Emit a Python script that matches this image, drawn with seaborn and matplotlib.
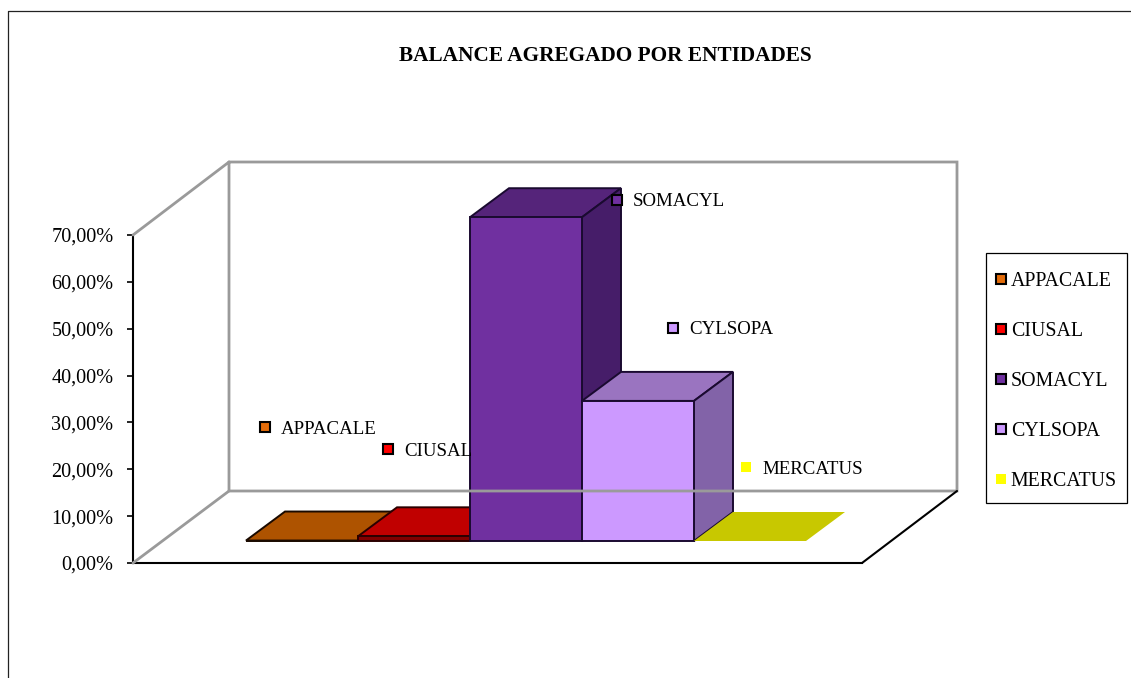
import matplotlib
matplotlib.use("Agg")
import matplotlib.pyplot as plt
from matplotlib.lines import Line2D
from matplotlib.patches import Polygon, Rectangle
from matplotlib.transforms import Affine2D
import seaborn as sns

entities = ["APPACALE", "CIUSAL", "SOMACYL", "CYLSOPA", "MERCATUS"]
values = [0.1, 1.0, 69.1, 29.9, 0.0]
yticks = [0, 10, 20, 30, 40, 50, 60, 70]
ytick_labels = ["0,00%", "10,00%", "20,00%", "30,00%", "40,00%", "50,00%", "60,00%", "70,00%"]
title = "BALANCE AGREGADO POR ENTIDADES"

front_colors = ["#E36C0A", "#800000", "#7030A0", "#CC99FF", "#C8C800"]
top_colors = ["#AE5300", "#C00000", "#55247A", "#9A74C0", "#C8C800"]
side_colors = ["#8A4200", "#900000", "#461D69", "#8263A8", "#A0A000"]
edge_colors = ["#1A0A00", "#2A0000", "#1A0A30", "#1A0A30", "none"]
key_colors = ["#E36C0A", "#FF0000", "#7030A0", "#CC99FF", "#FFFF00"]
key_edges = ["black", "black", "black", "black", "none"]

W, H = 1131, 678
sns.set_theme(style="white")
plt.rcParams["font.family"] = ["Liberation Serif", "DejaVu Serif"]
fig = plt.figure(figsize=(W / 100, H / 100), dpi=100, facecolor="white")
px = Affine2D().scale(1, -1).translate(0, H)


def axes_rect(x0, x1, ytop, ybot):
    return [x0 / W, (H - ybot) / H, (x1 - x0) / W, (ybot - ytop) / H]


# value axis, on the front plane of the chart box
ax = fig.add_axes(axes_rect(133, 862, 235, 563), facecolor="none")
ax.set_ylim(0, 70)
ax.set_xlim(0, 1)
ax.set_yticks(yticks)
ax.set_yticklabels(ytick_labels, fontsize=14.6, color="black")
ax.set_xticks([])
ax.tick_params(axis="y", left=True, length=4, width=1.2, color="black", pad=10)
sns.despine(ax=ax, top=True, right=True)
for s in ("left", "bottom"):
    ax.spines[s].set_color("black")
    ax.spines[s].set_linewidth(1.5)

# outer chart frame, walls and floor of the box
fig.add_artist(Line2D([8, 8, 1131], [678, 11, 11], transform=px, color="#222222", lw=0.9))
wall = dict(transform=px, color="#9A9A9A", lw=2.0, solid_joinstyle="miter")
fig.add_artist(Line2D([133, 229, 957, 957, 229, 229], [235, 162, 162, 491, 491, 162], **wall))
fig.add_artist(Line2D([133, 229], [563, 491], **wall))
fig.add_artist(Line2D([862, 957], [563, 491], transform=px, color="black", lw=1.5))

# bars sit mid-way in the depth of the box
ax_bars = fig.add_axes(axes_rect(246, 806, 213, 541), facecolor="none")
sns.barplot(x=entities, y=values, hue=entities, palette=front_colors, saturation=1,
            width=1, legend=False, ax=ax_bars, dodge=False)
ax_bars.set_xlim(-0.5, 4.5)
ax_bars.set_ylim(0, 70)
ax_bars.axis("off")

dx = 39 / 112
dy = 29 / (328 / 70)
for i, (bar, v) in enumerate(zip(ax_bars.patches, values)):
    ec = edge_colors[i]
    lw = 0 if ec == "none" else 1.4
    x0 = i - 0.5
    x1 = i + 0.5
    top = Polygon([(x0, v), (x1, v), (x1 + dx, v + dy), (x0 + dx, v + dy)], closed=True,
                  facecolor=top_colors[i], edgecolor=ec, lw=lw, clip_on=False, zorder=3 + 3 * i)
    side = Polygon([(x1, 0), (x1 + dx, dy), (x1 + dx, v + dy), (x1, v)], closed=True,
                   facecolor=side_colors[i], edgecolor=ec, lw=lw, clip_on=False, zorder=4 + 3 * i)
    ax_bars.add_patch(top)
    if v > 0.5:
        ax_bars.add_patch(side)
    bar.set_edgecolor(ec)
    bar.set_linewidth(lw)
    bar.set_zorder(5 + 3 * i)
    bar.set_clip_on(False)

# data labels with their legend keys
label_xy = [(265, 427), (388, 449), (617, 200), (673, 328), (746, 467)]
overlay = fig.add_axes([0, 0, 1, 1], facecolor="none")
overlay.axis("off")
overlay.set_xlim(0, W)
overlay.set_ylim(H, 0)
for name, (lx, ly), c, e in zip(entities, label_xy, key_colors, key_edges):
    overlay.plot([lx], [ly], marker="s", ms=6.6, mfc=c, mec=e, mew=1.5, ls="none")
    overlay.text(lx + 16, ly + 2, name, fontsize=13.6, va="center", ha="left", color="black")

overlay.text(605.5, 56, title, fontsize=15.35, fontweight="bold", ha="center", va="center", color="black")

# legend box and entries
overlay.add_patch(Rectangle((985.5, 253), 141.5, 250, facecolor="white", edgecolor="black", lw=0.9))
handles = [Line2D([], [], marker="s", ms=6.6, mfc=c, mec=e, mew=1.5, ls="none", label=n)
           for n, c, e in zip(entities, key_colors, key_edges)]
leg = overlay.legend(handles=handles, loc="upper left", bbox_to_anchor=(991 / W, 1 - 271.8 / H),
                     bbox_transform=fig.transFigure, fontsize=14.3, frameon=False,
                     borderaxespad=0, labelspacing=1.565, handlelength=1.0, handletextpad=0,
                     borderpad=0, labelcolor="black")

fig.savefig("out.png", dpi=100, facecolor="white")
